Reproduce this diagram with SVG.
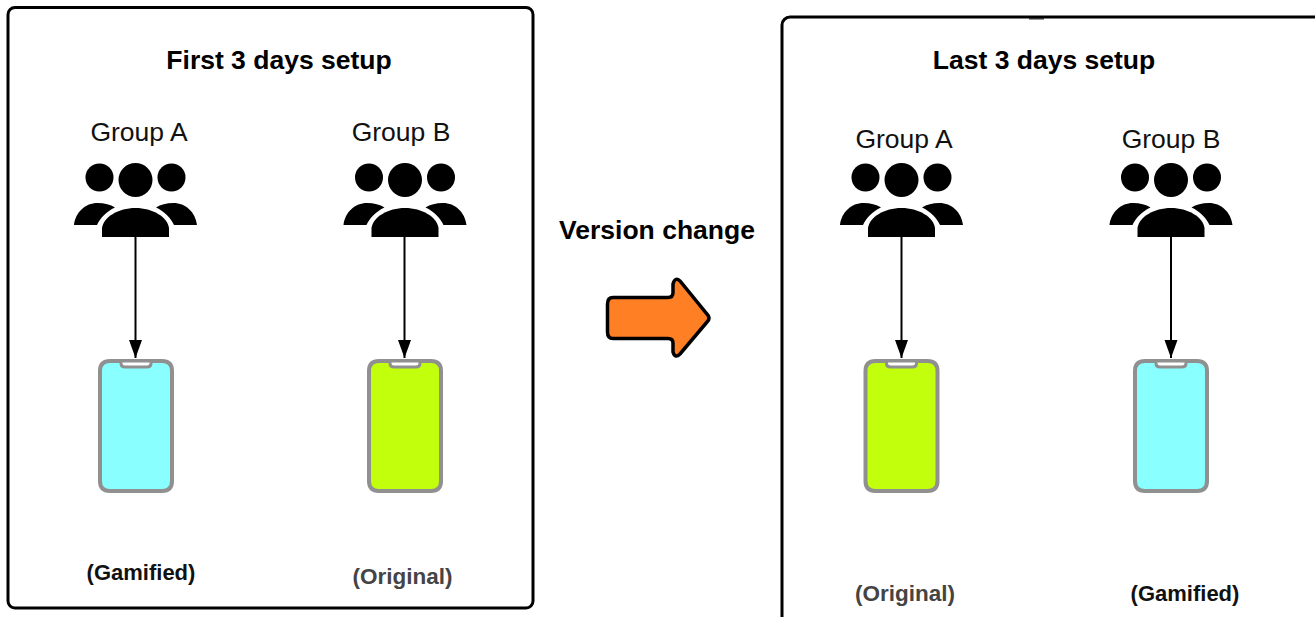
<svg xmlns="http://www.w3.org/2000/svg" width="1315" height="617" viewBox="0 0 1315 617">
<style>
.frame{fill:#fff;stroke:#000;stroke-width:3}
text{font-family:"Liberation Sans",Arial,sans-serif;text-anchor:middle}
.title{font-size:26.500px;font-weight:700;fill:#000}
.group{font-size:26.500px;fill:#111}
.label{font-size:22px;font-weight:700}
.body{stroke:#909090;stroke-width:4}
.conn{stroke:#000;stroke-width:2;fill:none;marker-end:url(#ah)}
</style>
<defs>
<marker id="ah" markerUnits="userSpaceOnUse" markerWidth="20" markerHeight="14" refX="18" refY="7" viewBox="0 0 20 14" orient="auto"><path d="M0 0.500L18 7L0 13.500Z" fill="#000"/></marker>
<g id="people" fill="#000">
<circle cx="-36" cy="-59.500" r="14"/><circle cx="0" cy="-57" r="17"/><circle cx="36" cy="-59.500" r="14"/>
<path d="M-61.500 -12C-60 -25 -50 -34 -38 -34C-31 -34 -25 -32.500 -20.500 -29.500C-29 -25.500 -35.500 -19 -38.500 -12Z"/>
<path d="M61.500 -12C60 -25 50 -34 38 -34C31 -34 25 -32.500 20.500 -29.500C29 -25.500 35.500 -19 38.500 -12Z"/>
<path d="M-33.500 0V-9C-32 -20 -17 -29 0 -29C17 -29 32 -20 33.500 -9V0Z"/>
</g>
<g id="phone">
<path class="body" d="M-26 -65H26Q36 -65 36 -55V55Q36 65 26 65H-26Q-36 65 -36 55V-55Q-36 -65 -26 -65Z"/>
<path d="M-15 -65H15V-62.500Q15 -59 11 -59H-11Q-15 -59 -15 -62.500Z" fill="#fff" stroke="#909090" stroke-width="3"/>
</g>
</defs>
<g id="first-setup">
<rect class="frame" x="8" y="7.500" width="525" height="600.500" rx="7"/>
<text class="title" x="279" y="69">First 3 days setup</text>
</g>
<g id="last-setup">
<rect class="frame" x="782" y="17" width="540" height="610" rx="8"/>
<rect x="1029" y="18" width="15" height="1.500" fill="#333"/>
<text class="title" x="1044" y="69">Last 3 days setup</text>
</g>
<g id="connectors">
<path class="conn" d="M135.500 237V358"/>
<path class="conn" d="M404.500 237V358"/>
<path class="conn" d="M901.500 237V358"/>
<path class="conn" d="M1171 237V358"/>
</g>
<g id="a1"><text class="group" x="139" y="140.500">Group A</text><use href="#people" x="135.500" y="237"/></g>
<g id="b1"><text class="group" x="401" y="140.500">Group B</text><use href="#people" x="405" y="237"/></g>
<g id="a2"><text class="group" x="904" y="147.500">Group A</text><use href="#people" x="901.500" y="237"/></g>
<g id="b2"><text class="group" x="1171" y="147.500">Group B</text><use href="#people" x="1171" y="237"/></g>
<g id="phone-a1" fill="#8affff"><use href="#phone" x="136" y="426"/></g>
<g id="phone-b1" fill="#c2ff0d"><use href="#phone" x="405" y="426"/></g>
<g id="phone-a2" fill="#c2ff0d"><use href="#phone" x="901.500" y="426"/></g>
<g id="phone-b2" fill="#8affff"><use href="#phone" x="1171" y="426"/></g>
<g id="version-change">
<text class="title" x="657" y="239">Version change</text>
<path d="M613 297.500H668Q673 297.500 673 292.500V284Q675 276.500 680 281L707 314Q711 318 707 322L680 354Q675 359 673 352V343Q673 338.500 668 338.500H613Q607.500 338.500 607.500 332V304Q607.500 297.500 613 297.500Z" fill="#ff7f24" stroke="#000" stroke-width="3.500"/>
</g>
<g id="captions">
<text class="label" x="141" y="580" fill="#111">(Gamified)</text>
<text class="label" x="402.500" y="584" fill="#444" style="font-size:22.500px">(Original)</text>
<text class="label" x="905" y="601" fill="#444" style="font-size:22.500px">(Original)</text>
<text class="label" x="1185" y="601" fill="#111">(Gamified)</text>
</g>
</svg>
